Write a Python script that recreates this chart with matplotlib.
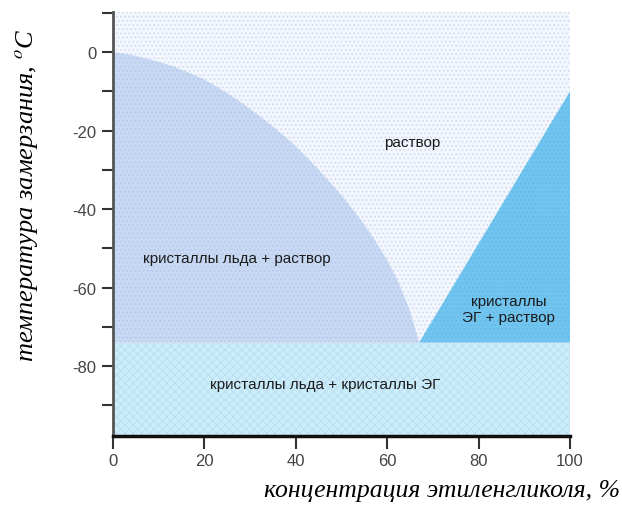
import matplotlib
matplotlib.use("Agg")
import matplotlib.pyplot as plt
from matplotlib.ticker import MultipleLocator

plt.rcParams['mathtext.fontset'] = 'stix'
plt.rcParams['axes.unicode_minus'] = False
plt.rcParams['hatch.linewidth'] = 0.6

# Ethylene glycol / water phase diagram
ice_x = [0, 2.5, 5, 7.5, 10, 12.5, 15, 17.5, 20, 22.5, 25, 27.5, 30, 32.5,
         35, 37.5, 40, 42.5, 45, 47.5, 50, 52.5, 55, 57.5, 60, 62.5, 65, 67]
ice_t = [0, -0.4, -1, -1.7, -2.5, -3.4, -4.5, -5.7, -7, -8.7, -10.5, -12.4,
         -14.5, -16.7, -19, -21.4, -24, -26.9, -30, -33.2, -36.5, -40.1,
         -44, -48.3, -53, -58.7, -66, -74]
eg_x = [67, 100]
eg_t = [-74, -10]
eutectic_t = -74

x_ticks = [0, 20, 40, 60, 80, 100]
y_ticks = [0, -20, -40, -60, -80]

regions = ['раствор', 'кристаллы льда + раствор',
           'кристаллы\nЭГ + раствор', 'кристаллы льда + кристаллы ЭГ']
region_pos = [(65.5, -23), (27, -52.5), (86.5, -65.5), (46.5, -84.5)]

c_sol = '#f1f7fd'
c_ice = '#c7d8f2'
c_band = '#cbedf9'
c_eg = '#70c4ee'

fig = plt.figure(figsize=(6.22, 5.06), dpi=100)
ax = fig.add_axes([0.1817, 0.1364, 0.7347, 0.8379])
xmin, xmax, ymin, ymax = 0, 100, -97.8, 10.2
ax.set_xlim(xmin, xmax)
ax.set_ylim(ymin, ymax)

# dotted background of the liquid region
ax.fill_between([xmin, xmax], ymax, ymin, facecolor=c_sol, edgecolor='#d3d2f1',
                hatch='....', lw=0, zorder=0.5)
ax.fill_between(ice_x, ice_t, eutectic_t, facecolor=c_ice, edgecolor='#b6c6ec',
                hatch='....', lw=0, zorder=1)
ax.fill_between(eg_x, eg_t, eutectic_t, facecolor=c_eg, edgecolor='#62b9e8',
                hatch='....', lw=0, zorder=1)
ax.fill_between([xmin, xmax], eutectic_t, ymin, facecolor=c_band, edgecolor='#b9dcf2',
                hatch='xxxx', lw=0, zorder=1)

sans = ['Liberation Sans', 'DejaVu Sans']
for txt, (px, py) in zip(regions, region_pos):
    ax.text(px, py, txt, ha='center', va='center', fontsize=11,
            family=sans, color='#1c1c1c', linespacing=1.15, zorder=3)

for s in ['top', 'right']:
    ax.spines[s].set_visible(False)
ax.spines['left'].set_linewidth(2)
ax.spines['left'].set_color('#555555')
ax.spines['bottom'].set_linewidth(2.5)
ax.spines['bottom'].set_color('#111111')

ax.set_xticks(x_ticks)
ax.set_yticks(y_ticks)
ax.yaxis.set_minor_locator(MultipleLocator(10))
ax.tick_params(axis='y', which='both', length=8, width=1.5, color='#333333',
               direction='out', pad=4)
ax.tick_params(axis='x', length=9, width=1.5, color='#333333',
               direction='out', pad=3)
for lab in ax.get_xticklabels() + ax.get_yticklabels():
    lab.set_family(sans)
    lab.set_fontsize(12)
    lab.set_color('#444444')

fig.text(0.997, 0.03, 'концентрация этиленгликоля, %', ha='right', va='center',
         fontsize=18.5, family='Liberation Serif', style='italic')
fig.text(0.042, 0.615, 'температура замерзания, $^{o}$C', ha='center', va='center',
         rotation=90, fontsize=19, family='Liberation Serif', style='italic')

fig.savefig('out.png', dpi=100)
